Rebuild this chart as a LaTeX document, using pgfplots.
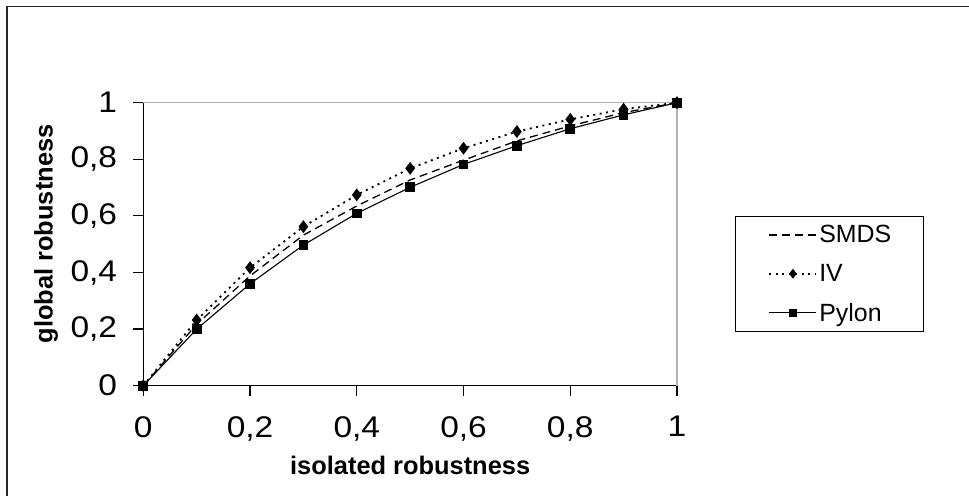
\documentclass[border=0pt]{standalone}
\usepackage{pgfplots}
\pgfplotsset{compat=1.18}
\usepackage{fontspec}
\setmainfont{Liberation Sans}

\pgfplotstableread{
x    smds   iv     pylon
0    0      0      0
0.1  0.217  0.232  0.200
0.2  0.388  0.417  0.360
0.3  0.532  0.562  0.497
0.4  0.635  0.674  0.609
0.5  0.727  0.768  0.701
0.6  0.797  0.839  0.782
0.7  0.865  0.898  0.848
0.8  0.918  0.941  0.908
0.9  0.965  0.977  0.957
1    1      1      1
}\robdata

\begin{document}
\begin{tikzpicture}
\useasboundingbox (0bp,0bp) rectangle (969bp,496bp);
% outer chart frame (only top and left visible)
\draw[line width=1.6bp, black!85] (6.7bp,0bp) -- (6.7bp,489.3bp) -- (969bp,489.3bp);
\begin{axis}[
    at={(143.3bp,110.3bp)}, anchor=south west,
    scale only axis, width=533.7bp, height=283bp,
    xmin=0, xmax=1, ymin=0, ymax=1,
    clip=false,
    axis lines*=left,
    axis line style={black, line width=1.2bp},
    tick align=outside,
    major tick length=10bp,
    tick style={black, line width=1.2bp},
    xtick={0,0.2,0.4,0.6,0.8,1},
    ytick={0,0.2,0.4,0.6,0.8,1},
    xticklabels={0,{0,2},{0,4},{0,6},{0,8},1},
    yticklabels={0,{0,2},{0,4},{0,6},{0,8},1},
    tick label style={font=\fontsize{30}{30}\selectfont, xscale=1.12},
    xticklabel style={yshift=-17bp},
    yticklabel style={xshift=-11bp},
    xlabel={isolated robustness},
    ylabel={global robustness},
    label style={font=\fontsize{25.5}{25.5}\selectfont\bfseries},
    xlabel style={at={(axis description cs:0.5,-0.28)}, anchor=center},
    ylabel style={at={(axis description cs:-0.1823,0.536)}, anchor=center, rotate=0},
    legend style={
        at={(axis description cs:1.1087,0.5996)}, anchor=north west,
        draw=black, line width=1bp,
        font=\fontsize{25}{25}\selectfont,
        inner xsep=30bp, inner ysep=7bp,
        row sep=16bp,
        /tikz/every even column/.append style={column sep=6bp},
    },
    legend cell align=left,
    legend image code/.code={
        \path (-3bp,0bp);
        \draw[mark repeat=2, mark phase=2, #1, mark size=3.5bp]
            plot coordinates {(0bp,0bp) (23.5bp,0bp) (47bp,0bp)};
    },
]
\draw[gray!60, line width=1.5bp] (rel axis cs:0,1) -- (rel axis cs:1,1) -- (rel axis cs:1,0);
\addplot[black, line width=1.3bp, dash pattern=on 8bp off 5bp] table[x=x, y=smds] {\robdata};
\addlegendentry{SMDS}
\addplot[black, line width=1.8bp, dash pattern=on 2bp off 4.5bp,
    mark=diamond*, mark size=5bp, mark options={solid}] table[x=x, y=iv] {\robdata};
\addlegendentry{IV}
\addplot[black, line width=1.1bp, mark=square*, mark size=4.3bp,
    mark options={solid}] table[x=x, y=pylon] {\robdata};
\addlegendentry{Pylon}
\end{axis}
\end{tikzpicture}
\end{document}
